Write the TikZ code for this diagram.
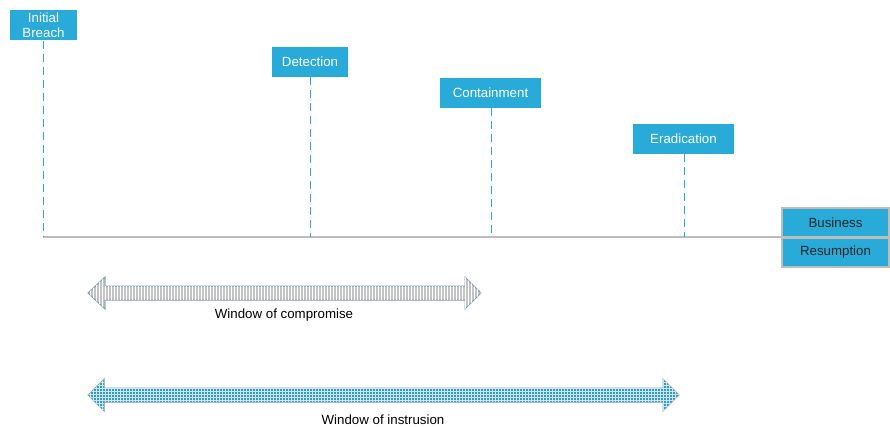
\documentclass[tikz,border=0pt]{standalone}
\usepackage{fontspec}
\setmainfont{Liberation Sans}
\usetikzlibrary{patterns}
\definecolor{boxblue}{HTML}{29ABD9}
\definecolor{arrowblue}{HTML}{3399C0}
\definecolor{arrowgray}{HTML}{C4C4C4}
\definecolor{edgecol}{HTML}{7FA0B2}
\definecolor{basegray}{HTML}{BDBDBD}
\tikzset{
  event/.style={fill=boxblue, text=white, font=\fontsize{13.3}{15.5}\selectfont, align=center, inner sep=0pt},
  resbox/.style={fill=boxblue, draw=basegray, line width=2pt, text=black!85, font=\fontsize{13.3}{15}\selectfont, inner sep=0pt, minimum width=107pt, minimum height=29pt},
  drop/.style={boxblue, line width=1.6pt, dash pattern=on 8pt off 5pt},
  baseline/.style={basegray, line width=2pt},
  winlabel/.style={font=\fontsize{13.3}{15}\selectfont, text=black},
  fatarrow/.style={draw=edgecol, line width=1pt, line join=miter}
}
\begin{document}
\begin{tikzpicture}[x=1pt,y=-1pt]
\useasboundingbox (0,0) rectangle (890,427);
% event boxes
\node[event, minimum width=67pt, minimum height=30pt] (ib) at (43.5,25.5) {Initial\\Breach};
\node[event, minimum width=76pt, minimum height=30pt] (det) at (310,62) {Detection};
\node[event, minimum width=101pt, minimum height=30pt] (con) at (490.5,93) {Containment};
\node[event, minimum width=101pt, minimum height=30pt] (era) at (683.5,139) {Eradication};
% resumption
\node[resbox] (bus) at (835.5,222.5) {Business};
\node[resbox] (res) at (835.5,252.5) {Resumption};
% baseline
\coordinate (b0) at (43,237);
\coordinate (b1) at (782,237);
\draw[baseline] (b0) -- (b1);
% drop lines
\coordinate (d1) at (43.5,237);
\coordinate (d2) at (310.5,237);
\coordinate (d3) at (491.5,237);
\coordinate (d4) at (684.5,237);
\draw[drop] (ib.south -| d1) -- (d1);
\draw[drop] (det.south -| d2) -- (d2);
\draw[drop] (con.south -| d3) -- (d3);
\draw[drop] (era.south -| d4) -- (d4);
% window of compromise arrow
\path[fatarrow, fill=arrowgray, postaction={pattern=vertical lines, pattern color=white}]
  (88,293) -- (105,277) -- (105,286) -- (465,286) -- (465,277) -- (481,293)
  -- (465,309) -- (465,300) -- (105,300) -- (105,309) -- cycle;
\node[winlabel] (wc) at (284,315) {Window of compromise};
% window of intrusion arrow
\path[fatarrow, fill=arrowblue, postaction={pattern=grid, pattern color=white!75!arrowblue}]
  (88,395) -- (104,379) -- (104,388) -- (663,388) -- (663,379) -- (679,395)
  -- (663,411) -- (663,402) -- (104,402) -- (104,411) -- cycle;
\node[winlabel] (wi) at (383,420) {Window of instrusion};
\end{tikzpicture}
\end{document}
